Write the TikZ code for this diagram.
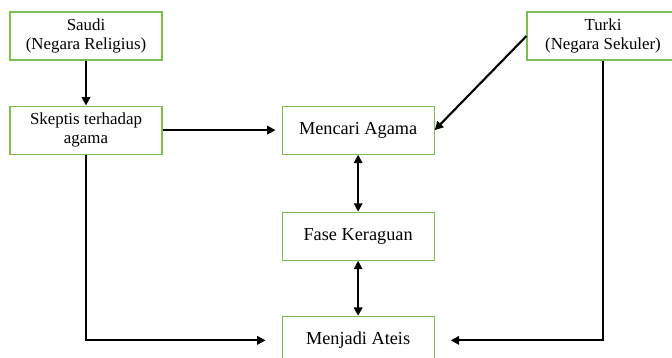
\documentclass[tikz,border=0pt]{standalone}
\usepackage{fontspec}
\setmainfont{Liberation Serif}
\usepackage{tikz}
\usetikzlibrary{arrows.meta, positioning}
\definecolor{boxgreen}{RGB}{125,190,80}

\begin{document}
\begin{tikzpicture}[
    node distance=1cm,
    box/.style={rectangle, draw=boxgreen, line width=0.8pt, minimum width=3.8cm, minimum height=1.2cm, align=center, inner sep=1pt},
    smallbox/.style={box, font=\fontsize{12}{14}\selectfont},
    bigbox/.style={box, font=\fontsize{13}{15}\selectfont},
    arrow/.style={-{Triangle[length=6pt, width=6pt]}, line width=1.5pt},
    twoway/.style={{Triangle[length=6pt, width=6pt]}-{Triangle[length=6pt, width=6pt]}, line width=1.5pt}
]
\useasboundingbox (0,0) rectangle (16.8,-8.95);

% Countries
\node[smallbox] (saudi) at (2.15,-0.9) {Saudi\\(Negara Religius)};
\node[smallbox] (turki) at (15.075,-0.9) {Turki\\(Negara Sekuler)};

% Left column
\node[smallbox, below=1.125cm of saudi] (skeptis) {Skeptis terhadap\\agama};

% Middle column
\node[bigbox, right=2.975cm of skeptis] (mencari) {Mencari Agama};
\node[bigbox, below=1.425cm of mencari] (fase) {Fase Keraguan};
\node[bigbox, below=1.375cm of fase] (ateis) {Menjadi Ateis};

% Arrows from countries
\draw[arrow] (saudi) -- (skeptis);
\draw[arrow] (turki.west) -- (mencari.east);
\draw[arrow, shorten >=0.15cm] (skeptis) -- (mencari);

% Arrows between phases
\draw[twoway] (mencari) -- (fase);
\draw[twoway] (fase) -- (ateis);

% Arrows to atheism
\draw[arrow, shorten >=0.4cm] (skeptis.south) |- (ateis.west);
\draw[arrow, shorten >=0.4cm] (turki.south) |- (ateis.east);

\end{tikzpicture}
\end{document}
